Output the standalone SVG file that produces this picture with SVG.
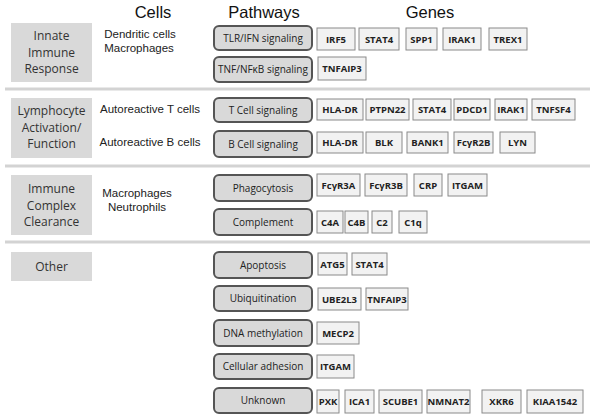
<svg xmlns="http://www.w3.org/2000/svg" width="602" height="418" viewBox="0 0 602 418">
<style>
.hdr{font-family:"Liberation Sans",Arial,sans-serif;font-size:16.5px;fill:#111;text-anchor:middle}
.cell{font-family:"Liberation Sans",Arial,sans-serif;font-size:11.5px;fill:#222;text-anchor:middle}
.cat rect{fill:#d9d9d9}
.cat text{font-family:"Open Sans",sans-serif;font-size:12px;fill:#333;text-anchor:middle}
.pw rect{fill:#d9d9d9;stroke:#555;stroke-width:2}
.pw text{font-family:"Open Sans",sans-serif;font-size:10px;fill:#222;text-anchor:middle}
.g rect{fill:#f2f2f2;stroke:#8a8a8a;stroke-width:1}
.g text{font-family:"Open Sans",sans-serif;font-size:9.5px;font-weight:bold;fill:#222;text-anchor:middle}
.sep{stroke:#d3d3d3;stroke-width:3}
</style>
<rect width="602" height="418" fill="#fff"/>
<text class="hdr" x="153" y="18">Cells</text>
<text class="hdr" x="264" y="18">Pathways</text>
<text class="hdr" x="430" y="18">Genes</text>

<g id="separators">
<line class="sep" x1="5" y1="89" x2="590" y2="89"/>
<line class="sep" x1="5" y1="166" x2="590" y2="166"/>
<line class="sep" x1="5" y1="242" x2="590" y2="242"/>
</g>

<g id="cat-innate" class="cat"><rect x="11" y="23" width="81" height="59"/>
<text x="51.5" y="40">Innate</text><text x="51.5" y="56.5">Immune</text><text x="51.5" y="73">Response</text></g>
<g id="cat-lymph" class="cat"><rect x="11" y="98" width="81" height="60"/>
<text x="51.5" y="115">Lymphocyte</text><text x="51.5" y="131.5">Activation/</text><text x="51.5" y="148">Function</text></g>
<g id="cat-icc" class="cat"><rect x="11" y="175" width="81" height="60"/>
<text x="51.5" y="193">Immune</text><text x="51.5" y="209.5">Complex</text><text x="51.5" y="226">Clearance</text></g>
<g id="cat-other" class="cat"><rect x="11" y="252" width="81" height="29"/>
<text x="51.5" y="271">Other</text></g>

<g id="cells">
<text class="cell" x="140" y="38">Dendritic cells</text>
<text class="cell" x="139" y="52">Macrophages</text>
<text class="cell" x="150" y="113">Autoreactive T cells</text>
<text class="cell" x="150" y="146">Autoreactive B cells</text>
<text class="cell" x="137" y="197">Macrophages</text>
<text class="cell" x="137" y="211">Neutrophils</text>
</g>

<g id="pw-tlr" class="pw"><rect x="214" y="26" width="98" height="24" rx="5"/><text x="263" y="41.5">TLR/IFN signaling</text></g>
<g id="pw-tnf" class="pw"><rect x="214" y="57" width="98" height="25" rx="5"/><text x="263" y="73">TNF/NFκB signaling</text></g>
<g id="pw-tcell" class="pw"><rect x="214" y="98" width="98" height="24" rx="5"/><text x="263" y="113.5">T Cell  signaling</text></g>
<g id="pw-bcell" class="pw"><rect x="214" y="131" width="98" height="26" rx="5"/><text x="263" y="147.5">B Cell signaling</text></g>
<g id="pw-phago" class="pw"><rect x="214" y="175" width="98" height="26" rx="5"/><text x="263" y="191.5">Phagocytosis</text></g>
<g id="pw-compl" class="pw"><rect x="214" y="209" width="98" height="26" rx="5"/><text x="263" y="225.5">Complement</text></g>
<g id="pw-apop" class="pw"><rect x="214" y="252" width="98" height="26" rx="5"/><text x="263" y="268.5">Apoptosis</text></g>
<g id="pw-ubiq" class="pw"><rect x="214" y="286" width="98" height="25" rx="5"/><text x="263" y="302">Ubiquitination</text></g>
<g id="pw-dna" class="pw"><rect x="214" y="320" width="98" height="26" rx="5"/><text x="263" y="336.5">DNA methylation</text></g>
<g id="pw-adh" class="pw"><rect x="214" y="354" width="98" height="25" rx="5"/><text x="263" y="370">Cellular adhesion</text></g>
<g id="pw-unk" class="pw"><rect x="214" y="388" width="98" height="25" rx="5"/><text x="263" y="404">Unknown</text></g>

<g id="genes">
<g id="g-irf5" class="g"><rect x="317" y="28" width="38" height="22"/><text x="336" y="42.5">IRF5</text></g>
<g id="g-stat4a" class="g"><rect x="359" y="28" width="40" height="22"/><text x="379" y="42.5">STAT4</text></g>
<g id="g-spp1" class="g"><rect x="406" y="28" width="31" height="22"/><text x="421.5" y="42.5">SPP1</text></g>
<g id="g-irak1a" class="g"><rect x="443" y="28" width="38" height="22"/><text x="462" y="42.5">IRAK1</text></g>
<g id="g-trex1" class="g"><rect x="489" y="28" width="38" height="22"/><text x="508" y="42.5">TREX1</text></g>
<g id="g-tnfaip3a" class="g"><rect x="318" y="57" width="48" height="23"/><text x="342" y="72">TNFAIP3</text></g>

<g id="g-hladr1" class="g"><rect x="317" y="99" width="46" height="21"/><text x="340" y="113">HLA-DR</text></g>
<g id="g-ptpn22" class="g"><rect x="366" y="99" width="43" height="21"/><text x="387.5" y="113">PTPN22</text></g>
<g id="g-stat4b" class="g"><rect x="413" y="99" width="38" height="21"/><text x="432" y="113">STAT4</text></g>
<g id="g-pdcd1" class="g"><rect x="454" y="99" width="36" height="21"/><text x="472" y="113">PDCD1</text></g>
<g id="g-irak1b" class="g"><rect x="495" y="99" width="32" height="21"/><text x="511" y="113">IRAK1</text></g>
<g id="g-tnfsf4" class="g"><rect x="532" y="99" width="43" height="21"/><text x="553.5" y="113">TNFSF4</text></g>

<g id="g-hladr2" class="g"><rect x="317" y="132" width="46" height="21"/><text x="340" y="146">HLA-DR</text></g>
<g id="g-blk" class="g"><rect x="366" y="132" width="36" height="21"/><text x="384" y="146">BLK</text></g>
<g id="g-bank1" class="g"><rect x="407" y="132" width="41" height="21"/><text x="427.5" y="146">BANK1</text></g>
<g id="g-fcgr2b" class="g"><rect x="454" y="132" width="39" height="21"/><text x="473.5" y="146">FcγR2B</text></g>
<g id="g-lyn" class="g"><rect x="500" y="132" width="35" height="21"/><text x="517.5" y="146">LYN</text></g>

<g id="g-fcgr3a" class="g"><rect x="317" y="174" width="43" height="22"/><text x="338.5" y="188.5">FcγR3A</text></g>
<g id="g-fcgr3b" class="g"><rect x="365" y="174" width="42" height="22"/><text x="386" y="188.5">FcγR3B</text></g>
<g id="g-crp" class="g"><rect x="414" y="174" width="28" height="22"/><text x="428" y="188.5">CRP</text></g>
<g id="g-itgam1" class="g"><rect x="448" y="174" width="39" height="22"/><text x="467.5" y="188.5">ITGAM</text></g>

<g id="g-c4a" class="g"><rect x="317" y="211" width="26" height="22"/><text x="330" y="225.5">C4A</text></g>
<g id="g-c4b" class="g"><rect x="345" y="211" width="23" height="22"/><text x="356.5" y="225.5">C4B</text></g>
<g id="g-c2" class="g"><rect x="372" y="211" width="20" height="22"/><text x="382" y="225.5">C2</text></g>
<g id="g-c1q" class="g"><rect x="399" y="211" width="28" height="22"/><text x="413" y="225.5">C1q</text></g>

<g id="g-atg5" class="g"><rect x="318" y="253" width="29" height="22"/><text x="332.5" y="267.5">ATG5</text></g>
<g id="g-stat4c" class="g"><rect x="352" y="253" width="35" height="22"/><text x="369.5" y="267.5">STAT4</text></g>
<g id="g-ube2l3" class="g"><rect x="318" y="288" width="43" height="22"/><text x="339.5" y="302.5">UBE2L3</text></g>
<g id="g-tnfaip3b" class="g"><rect x="366" y="288" width="42" height="22"/><text x="387" y="302.5">TNFAIP3</text></g>
<g id="g-mecp2" class="g"><rect x="317" y="322" width="42" height="22"/><text x="338" y="336.5">MECP2</text></g>
<g id="g-itgam2" class="g"><rect x="317" y="355" width="37" height="23"/><text x="335.5" y="370">ITGAM</text></g>

<g id="g-pxk" class="g"><rect x="317" y="390" width="22" height="23"/><text x="328" y="405">PXK</text></g>
<g id="g-ica1" class="g"><rect x="345" y="390" width="29" height="23"/><text x="359.5" y="405">ICA1</text></g>
<g id="g-scube1" class="g"><rect x="379" y="390" width="43" height="23"/><text x="400.5" y="405">SCUBE1</text></g>
<g id="g-nmnat2" class="g"><rect x="427" y="390" width="43" height="23"/><text x="448.5" y="405">NMNAT2</text></g>
<g id="g-xkr6" class="g"><rect x="482" y="390" width="39" height="23"/><text x="501.5" y="405">XKR6</text></g>
<g id="g-kiaa" class="g"><rect x="527" y="390" width="56" height="23"/><text x="555" y="405">KIAA1542</text></g>
</g>
</svg>
